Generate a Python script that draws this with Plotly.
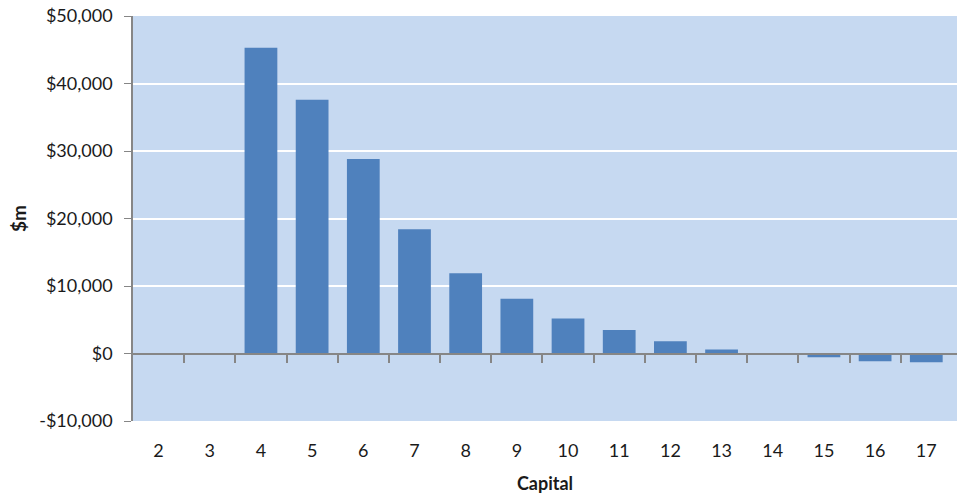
import plotly.graph_objects as go

categories = ["2", "3", "4", "5", "6", "7", "8", "9", "10", "11", "12", "13", "14", "15", "16", "17"]
values = [0, 0, 45300, 37600, 28800, 18400, 11900, 8100, 5200, 3500, 1800, 600, 0, -550, -1150, -1300]
y_tickvals = [-10000, 0, 10000, 20000, 30000, 40000, 50000]
y_ticktext = ["-$10,000", "$0", "$10,000", "$20,000", "$30,000", "$40,000", "$50,000"]

ymin, ymax = -10000, 50000
xr = [-0.5, len(categories) - 0.4]

font = "Lato, 'Open Sans', sans-serif"

fig = go.Figure()
fig.add_trace(go.Bar(x=categories, y=values, marker=dict(color="#4F81BD", line=dict(width=0)),
                     width=0.64, showlegend=False))
# invisible trace on the overlay axis so it renders
fig.add_trace(go.Scatter(x=[0], y=[0], xaxis="x2", yaxis="y", mode="markers",
                         marker=dict(opacity=0), showlegend=False, hoverinfo="skip"))

fig.update_layout(
    width=957, height=494,
    margin=dict(l=133, r=0, t=16, b=73),
    paper_bgcolor="white",
    plot_bgcolor="#C6D9F1",
    bargap=0.36,
    font=dict(family=font, size=18, color="#1a1a1a"),
    xaxis=dict(type="category", range=xr, showgrid=False, zeroline=False, showline=False,
               automargin=False,
               ticks="", ticklabelstandoff=17, tickfont=dict(size=18),
               title=dict(text="<b>Capital</b>", font=dict(size=18), standoff=22)),
    xaxis2=dict(overlaying="x", anchor="free", position=(0 - ymin) / (ymax - ymin),
                range=xr, showgrid=False, zeroline=False, showline=True, linecolor="#868686",
                linewidth=2, ticks="outside", ticklen=8, tickwidth=1.5, tickcolor="#868686",
                tickvals=[i + 0.5 for i in range(len(categories) - 1)], showticklabels=False),
    yaxis=dict(range=[ymin, ymax], tickvals=y_tickvals, ticktext=y_ticktext,
               automargin=False,
               showgrid=True, gridcolor="white", gridwidth=1.5, zeroline=False,
               showline=True, linecolor="#868686", linewidth=1.5,
               ticks="outside", ticklen=7, tickcolor="#868686",
               ticklabelstandoff=8, tickfont=dict(size=18),
               title=dict(text="<b>$m</b>", font=dict(size=19), standoff=8)),
)

fig.write_html("out.html")
